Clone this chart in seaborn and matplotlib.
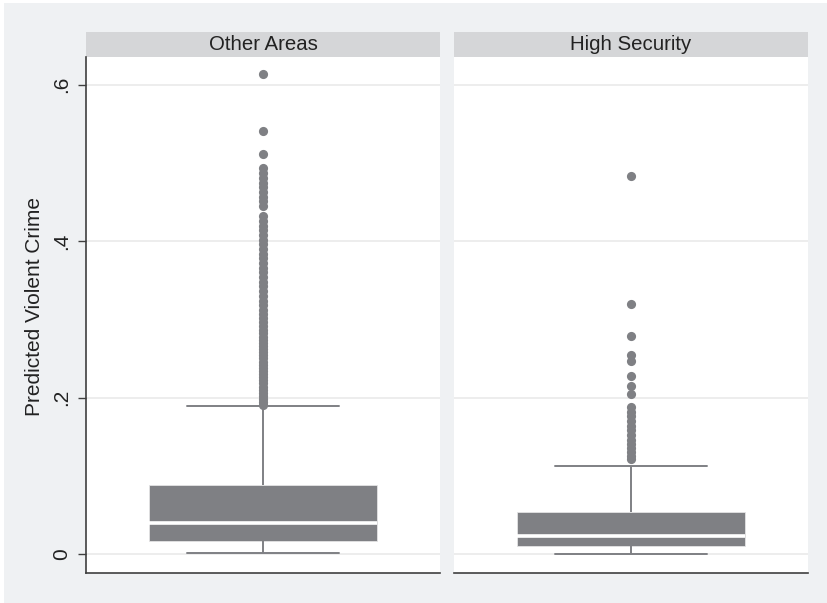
import matplotlib
matplotlib.use("Agg")
import matplotlib.pyplot as plt
from matplotlib.patches import Rectangle
import seaborn as sns

# panel names
panels = ["Other Areas", "High Security"]

# five-number summaries: low whisker, q1, median, q3, high whisker
other_stats = [0.001, 0.017, 0.039, 0.088, 0.189]
secure_stats = [0.000, 0.010, 0.0235, 0.0535, 0.113]

# outside values (dots)
other_out = [0.614, 0.541, 0.511, 0.493, 0.487, 0.481, 0.475, 0.469,
             0.463, 0.457, 0.451, 0.445, 0.432, 0.426, 0.420, 0.414,
             0.408, 0.402, 0.396, 0.390, 0.384, 0.378, 0.372, 0.366,
             0.360, 0.354, 0.348, 0.342, 0.336, 0.330, 0.324, 0.318,
             0.312, 0.307, 0.302, 0.297, 0.292, 0.287, 0.282, 0.278,
             0.274, 0.270, 0.266, 0.262, 0.258, 0.254, 0.250, 0.246,
             0.242, 0.238, 0.234, 0.230, 0.226, 0.222, 0.218, 0.214,
             0.210, 0.206, 0.202, 0.198, 0.194, 0.191]
secure_out = [0.483, 0.320, 0.279, 0.255, 0.247, 0.228, 0.215, 0.205,
              0.188, 0.182, 0.176, 0.170, 0.164, 0.158, 0.152, 0.146,
              0.140, 0.135, 0.130, 0.125, 0.121]

yticks = [0, 0.2, 0.4, 0.6]
ytick_labels = ["0", ".2", ".4", ".6"]

bg = "#eff1f3"
strip_col = "#d5d6d8"
gray = "#7f8084"
grid_col = "#eaeaea"
axis_col = "#3f3f3f"
txt_col = "#222222"

sns.set_style("white")
plt.rcParams["font.family"] = ["Liberation Sans", "DejaVu Sans"]

fig = plt.figure(figsize=(8.28, 6.03), dpi=100, facecolor="white")
W, H = 828, 603
# graph region background with thin white margin on top/left
fig.patches.append(Rectangle((4 / W, 0), 1 - 4 / W, 1 - 3 / H,
                             transform=fig.transFigure, facecolor=bg,
                             edgecolor="none", zorder=-10))
top_px, bot_px = 57, 573
ax_h = (bot_px - top_px) / H
ax1 = fig.add_axes([86 / W, (H - bot_px) / H, 354 / W, ax_h])
ax2 = fig.add_axes([454 / W, (H - bot_px) / H, 354 / W, ax_h], sharey=ax1)

for ax, name, stats, outl in zip([ax1, ax2], panels,
                                 [other_stats, secure_stats],
                                 [other_out, secure_out]):
    ax.set_facecolor("white")
    # with 5 values and whis=(0,100) seaborn reproduces the summary exactly
    sns.boxplot(y=stats, ax=ax, whis=(0, 100), width=0.645, color=gray,
                linecolor=gray, saturation=1, capwidths=0.43,
                boxprops=dict(edgecolor="#e4e4e4", linewidth=0.6),
                medianprops=dict(color="white", linewidth=2.6),
                whiskerprops=dict(color=gray, linewidth=1.4),
                capprops=dict(color=gray, linewidth=1.4),
                showfliers=False, zorder=3)
    sns.stripplot(y=outl, ax=ax, jitter=False, color=gray, size=6.6,
                  linewidth=0, zorder=4)
    ax.set_xlim(-0.5, 0.5)
    ax.set_xticks([])
    ax.set_xlabel("")
    ax.set_ylabel("")
    ax.grid(axis="y", color=grid_col, linewidth=1.2, zorder=0)
    ax.set_axisbelow(True)
    for s in ["top", "right", "left"]:
        ax.spines[s].set_visible(False)
    ax.spines["bottom"].set_color(axis_col)
    ax.spines["bottom"].set_linewidth(1.2)
    # strip header
    ax.add_patch(Rectangle((0, 1.0), 1, 25 / (bot_px - top_px),
                           transform=ax.transAxes, facecolor=strip_col,
                           edgecolor="none", clip_on=False))
    ax.text(0.5, 1.0 + 12.5 / (bot_px - top_px), name, transform=ax.transAxes,
            ha="center", va="center", fontsize=14.7, color=txt_col)

ax1.set_ylim(-0.0244, 0.6355)
ax1.set_yticks(yticks)
ax1.set_yticklabels(ytick_labels, rotation=90, va="center", fontsize=15,
                    color=txt_col)
ax1.spines["left"].set_visible(True)
ax1.spines["left"].set_color(axis_col)
ax1.spines["left"].set_linewidth(1.2)
ax1.tick_params(axis="y", left=True, length=6, width=1.0, color=axis_col, pad=5)
ax1.set_ylabel("Predicted Violent Crime", fontsize=15, color=txt_col)
ax1.yaxis.set_label_coords(-0.118, 0.517)
ax2.tick_params(axis="y", left=False, labelleft=False)

fig.savefig("out.png", dpi=100, facecolor="white")
